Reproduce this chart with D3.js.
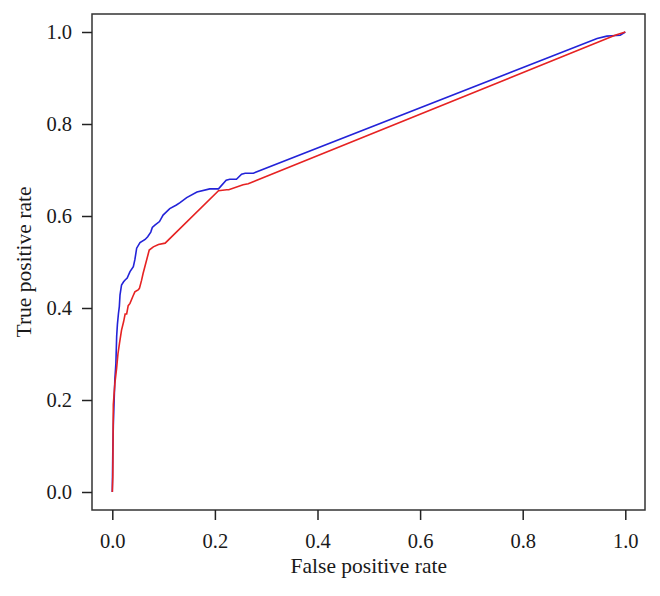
<!DOCTYPE html>
<html>
<head>
<meta charset="utf-8">
<script src="https://cdn.jsdelivr.net/npm/d3@7"></script>
<style>
  body { margin: 0; background: #fff; }
  text { font-family: "Liberation Serif", "DejaVu Serif", serif; fill: #1a1a1a; }
</style>
</head>
<body>
<div id="chart"></div>
<script>
// ROC curves
var blueFpr = [0, 0.001, 0.002, 0.003, 0.005, 0.007, 0.0085, 0.010, 0.012, 0.0137, 0.015, 0.018, 0.022, 0.025, 0.029, 0.0345, 0.041, 0.044, 0.0475, 0.054, 0.064, 0.069, 0.075, 0.078, 0.083, 0.092, 0.099, 0.112, 0.125, 0.132, 0.145, 0.165, 0.19, 0.207, 0.222, 0.229, 0.242, 0.252, 0.259, 0.275, 0.945, 0.964, 0.974, 0.99, 1];
var blueTpr = [0, 0.09, 0.145, 0.18, 0.245, 0.28, 0.338, 0.365, 0.388, 0.403, 0.428, 0.45, 0.457, 0.461, 0.465, 0.479, 0.49, 0.505, 0.53, 0.542, 0.549, 0.555, 0.565, 0.575, 0.58, 0.588, 0.602, 0.616, 0.624, 0.629, 0.64, 0.652, 0.659, 0.659, 0.678, 0.68, 0.68, 0.691, 0.693, 0.693, 0.986, 0.991, 0.992, 0.993, 1];

var redFpr = [0, 0.001, 0.0015, 0.002, 0.005, 0.0085, 0.011, 0.014, 0.018, 0.022, 0.025, 0.028, 0.031, 0.0345, 0.040, 0.044, 0.051, 0.053, 0.057, 0.060, 0.072, 0.080, 0.090, 0.103, 0.207, 0.223, 0.227, 0.255, 0.265, 0.98, 1];
var redTpr = [0, 0.033, 0.12, 0.19, 0.236, 0.27, 0.30, 0.323, 0.352, 0.37, 0.387, 0.387, 0.405, 0.41, 0.425, 0.435, 0.44, 0.443, 0.46, 0.475, 0.526, 0.533, 0.538, 0.541, 0.655, 0.657, 0.657, 0.668, 0.67, 0.993, 1];

var xTicks = [0, 0.2, 0.4, 0.6, 0.8, 1.0];
var yTicks = [0, 0.2, 0.4, 0.6, 0.8, 1.0];

var W = 660, H = 596;
var box = { left: 92, right: 645, top: 14, bottom: 510 };

var svg = d3.select("#chart").append("svg").attr("width", W).attr("height", H);

var x = d3.scaleLinear().domain([0, 1]).range([112.3, 625.3]);
var y = d3.scaleLinear().domain([0, 1]).range([492, 32]);

/** curves */
var line = d3.line().x(function (d) { return x(d[0]); }).y(function (d) { return y(d[1]); });
var blue = blueFpr.map(function (v, i) { return [v, blueTpr[i]]; });
var red = redFpr.map(function (v, i) { return [v, redTpr[i]]; });

svg.append("path").datum(blue).attr("d", line)
  .attr("fill", "none").attr("stroke", "#2323d8").attr("stroke-width", 1.6);
svg.append("path").datum(red).attr("d", line)
  .attr("fill", "none").attr("stroke", "#e62222").attr("stroke-width", 1.6);

/** frame */
svg.append("rect")
  .attr("x", box.left).attr("y", box.top)
  .attr("width", box.right - box.left).attr("height", box.bottom - box.top)
  .attr("fill", "none").attr("stroke", "#333").attr("stroke-width", 1.5);

/** axes */
var fmt = d3.format(".1f");
var gx = svg.append("g").attr("transform", "translate(0," + box.bottom + ")")
  .call(d3.axisBottom(x).tickValues(xTicks).tickFormat(fmt).tickSize(10).tickPadding(13));
var gy = svg.append("g").attr("transform", "translate(" + box.left + ",0)")
  .call(d3.axisLeft(y).tickValues(yTicks).tickFormat(fmt).tickSize(10).tickPadding(10));

[gx, gy].forEach(function (g) {
  g.select(".domain").remove();
  g.selectAll(".tick line").attr("stroke", "#222").attr("stroke-width", 1.5);
  g.selectAll(".tick text").attr("font-size", 20.5).attr("fill", "#1a1a1a")
    .style("font-family", "'Liberation Serif', serif");
});

/** titles */
svg.append("text").attr("x", (x(0) + x(1)) / 2).attr("y", 573)
  .attr("text-anchor", "middle").attr("font-size", 21.5).text("False positive rate");
svg.append("text").attr("transform", "translate(31," + (y(0) + y(1)) / 2 + ") rotate(-90)")
  .attr("text-anchor", "middle").attr("font-size", 21.5).text("True positive rate");
</script>
</body>
</html>
